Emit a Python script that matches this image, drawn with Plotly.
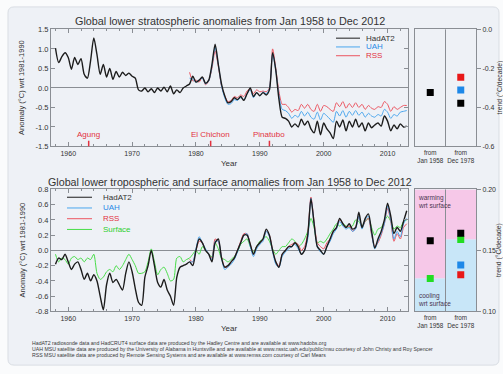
import numpy as np
import plotly.graph_objects as go

# ---------------- data ----------------
# half-yearly time axis (decimal years)
years_full = np.arange(1958.0, 2013.01, 0.5)   # radiosonde / surface record
years_sat = np.arange(1979.0, 2013.01, 0.5)    # satellite era

# lower stratosphere anomalies (degC wrt 1981-1990)
strat_hadat2 = [
    1.02, 0.65, 0.80, 0.90, 0.78, 0.48, 0.78, 0.60, 0.75, 0.35,
    0.25, 0.70, 1.28, 0.85, 0.35, 0.60, 0.28, 0.50, 0.22, 0.42,
    0.28, 0.40, 0.32, 0.38, 0.30, 0.25, -0.05, -0.08, 0.00, -0.10,
    -0.02, -0.12, 0.00, -0.08, 0.02, -0.10, 0.05, -0.15, -0.05, -0.12,
    0.00, 0.05, 0.10, 0.30, 0.15, 0.20, 0.28, 0.12, 0.20, 0.60,
    1.12, 0.60, 0.10, -0.20, -0.38, -0.35, -0.25, -0.30, -0.22, -0.32,
    -0.15, 0.00, -0.22, -0.12, -0.20, -0.12, -0.18, -0.05, 0.90, 0.45,
    -0.30, -0.75, -0.78, -0.85, -1.00, -0.92, -1.00, -0.80, -0.95, -0.85,
    -1.05, -1.15, -0.85, -1.20, -0.90, -1.05, -1.15, -1.30, -0.85, -1.00,
    -0.82, -1.10, -0.85, -1.00, -0.80, -1.00, -0.90, -1.10, -0.90, -1.02,
    -0.95, -0.90, -0.98, -0.72, -0.85, -1.10, -0.95, -1.05, -0.92, -1.00,
    -0.98,
]
strat_uah = [
    0.25, 0.22, 0.15, 0.20, 0.25, 0.10, 0.18, 0.55, 1.05, 0.60,
    0.05, -0.25, -0.42, -0.40, -0.30, -0.32, -0.25, -0.30, -0.15, -0.05,
    -0.25, -0.12, -0.20, -0.10, -0.15, -0.02, 0.88, 0.45, -0.20, -0.55,
    -0.58, -0.65, -0.78, -0.70, -0.75, -0.60, -0.72, -0.62, -0.75, -0.80,
    -0.62, -0.82, -0.65, -0.72, -0.80, -0.88, -0.60, -0.72, -0.58, -0.75,
    -0.60, -0.70, -0.58, -0.70, -0.62, -0.75, -0.65, -0.72, -0.75, -0.68,
    -0.72, -0.55, -0.62, -0.78, -0.68, -0.72, -0.62, -0.60, -0.58,
]
strat_rss = [
    0.40, 0.18, 0.20, 0.15, 0.28, 0.08, 0.18, 0.50, 0.95, 0.55,
    0.05, -0.20, -0.35, -0.32, -0.22, -0.25, -0.18, -0.22, -0.08, -0.02,
    -0.15, -0.05, -0.10, -0.08, -0.10, 0.00, 1.00, 0.50, -0.10, -0.42,
    -0.42, -0.50, -0.62, -0.55, -0.58, -0.42, -0.52, -0.42, -0.55, -0.60,
    -0.42, -0.60, -0.45, -0.48, -0.55, -0.60, -0.38, -0.48, -0.35, -0.52,
    -0.40, -0.50, -0.38, -0.50, -0.42, -0.55, -0.45, -0.52, -0.55, -0.48,
    -0.50, -0.35, -0.42, -0.60, -0.48, -0.55, -0.50, -0.45, -0.45,
]

# lower troposphere and surface anomalies (degC wrt 1981-1990)
trop_hadat2 = [
    -0.18, -0.10, -0.12, -0.05, -0.15, -0.25, -0.18, -0.15, -0.25, -0.38,
    -0.30, -0.40, -0.32, -0.40, -0.60, -0.78, -0.45, -0.30, -0.42, -0.38,
    -0.45, -0.52, -0.30, -0.15, -0.28, -0.50, -0.68, -0.72, -0.35, -0.20,
    0.00, -0.20, -0.42, -0.48, -0.38, -0.52, -0.60, -0.72, -0.35, -0.22,
    -0.20, -0.18, -0.15, -0.20, 0.00, 0.15, 0.10, 0.00, -0.05, -0.15,
    0.10, 0.15, -0.10, -0.22, -0.20, -0.15, -0.10, 0.00, 0.10, 0.20,
    0.20, 0.08, -0.05, 0.05, 0.10, 0.15, 0.28, 0.20, 0.00, -0.15,
    -0.22, -0.05, 0.00, 0.05, 0.05, 0.10, 0.05, -0.05, 0.00, 0.20,
    0.68, 0.35, 0.05, 0.00, -0.05, 0.05, 0.15, 0.25, 0.30, 0.42,
    0.35, 0.30, 0.35, 0.28, 0.30, 0.50, 0.30, 0.42, 0.48, 0.25,
    0.03, 0.15, 0.25, 0.40, 0.62, 0.45, 0.22, 0.30, 0.25, 0.38,
    0.52,
]
trop_surface = [
    -0.05, -0.15, -0.10, -0.12, -0.18, -0.10, -0.08, -0.12, -0.10, -0.15,
    -0.10, -0.12, -0.05, -0.30, -0.38, -0.35, -0.28, -0.25, -0.28, -0.20,
    -0.25, -0.20, -0.12, -0.05, -0.12, -0.20, -0.30, -0.30, -0.28, -0.15,
    0.02, -0.15, -0.32, -0.25, -0.22, -0.30, -0.40, -0.38, -0.10, -0.08,
    -0.15, -0.12, -0.10, -0.05, 0.00, -0.05, 0.05, 0.00, -0.05, -0.08,
    0.10, 0.02, -0.10, -0.12, -0.15, -0.12, -0.08, -0.02, 0.08, 0.12,
    0.15, 0.05, -0.02, 0.05, 0.12, 0.15, 0.18, 0.12, 0.02, -0.05,
    0.00, 0.05, 0.05, 0.10, 0.15, 0.12, 0.05, 0.08, 0.15, 0.25,
    0.42, 0.30, 0.10, 0.12, 0.10, 0.15, 0.22, 0.28, 0.35, 0.32,
    0.35, 0.32, 0.30, 0.32, 0.40, 0.38, 0.32, 0.38, 0.42, 0.30,
    0.20, 0.28, 0.30, 0.38, 0.45, 0.38, 0.28, 0.32, 0.30, 0.38,
    0.40,
]
trop_uah = [
    -0.15, -0.15, 0.02, 0.18, 0.10, 0.02, -0.05, -0.12, 0.12, 0.12,
    -0.10, -0.25, -0.22, -0.18, -0.12, -0.02, 0.10, 0.20, 0.22, 0.05,
    -0.08, 0.02, 0.08, 0.12, 0.25, 0.18, -0.02, -0.18, -0.22, -0.08,
    -0.02, 0.02, 0.05, 0.08, 0.02, -0.05, 0.00, 0.15, 0.68, 0.35,
    0.05, -0.02, -0.05, 0.05, 0.12, 0.22, 0.28, 0.38, 0.32, 0.28,
    0.30, 0.25, 0.28, 0.45, 0.28, 0.40, 0.45, 0.22, 0.02, 0.12,
    0.22, 0.35, 0.58, 0.40, 0.15, 0.25, 0.18, 0.35, 0.42,
]
trop_rss = [
    -0.12, -0.15, 0.00, 0.12, 0.10, 0.00, -0.05, -0.10, 0.15, 0.12,
    -0.08, -0.22, -0.22, -0.15, -0.10, 0.00, 0.12, 0.22, 0.22, 0.08,
    -0.05, 0.05, 0.10, 0.15, 0.25, 0.20, 0.00, -0.15, -0.20, -0.05,
    0.00, 0.05, 0.08, 0.10, 0.08, 0.00, 0.05, 0.22, 0.70, 0.38,
    0.10, 0.05, 0.02, 0.10, 0.15, 0.25, 0.30, 0.40, 0.35, 0.30,
    0.32, 0.25, 0.30, 0.45, 0.30, 0.38, 0.42, 0.20, 0.05, 0.10,
    0.20, 0.35, 0.55, 0.38, 0.12, 0.22, 0.15, 0.30, 0.35,
]

# linear trends (degC/decade); columns: from Jan 1958, from Dec 1978
trend_periods = ["from<br>Jan 1958", "from<br>Dec 1978"]
strat_trend_hadat2 = [-0.323, -0.378]
strat_trend_uah = [None, -0.31]
strat_trend_rss = [None, -0.245]
trop_trend_hadat2 = [0.158, 0.164]
trop_trend_surface = [0.127, 0.159]
trop_trend_uah = [None, 0.138]
trop_trend_rss = [None, 0.130]

# major volcanic eruptions
volcano_names = ["Agung", "El Chichon", "Pinatubo"]
volcano_years = [1963.2, 1982.3, 1991.5]

year_ticks = [1960, 1970, 1980, 1990, 2000, 2010]
strat_ticks = [-1.5, -1.0, -0.5, 0.0, 0.5, 1.0, 1.5]
trop_ticks = [-0.8, -0.6, -0.4, -0.2, 0.0, 0.2, 0.4, 0.6, 0.8]
strat_trend_ticks = [-0.6, -0.4, -0.2, 0.0]
trop_trend_ticks = [0.10, 0.15, 0.20]

# ---------------- styling ----------------
W, H = 503, 374
FONT = "Liberation Sans, Arial, sans-serif"
C_HAD = "#1c1c1c"
C_UAH = "#4aa6ee"
C_RSS = "#ec5560"
C_SFC = "#48dd48"
C_UAH_TXT = "#2a8ae6"
C_RSS_TXT = "#e2323f"
C_SFC_TXT = "#2fcf2f"
C_VOLC = "#e2323f"
AXC = "#8a8e94"
TXT = "#333333"

XRANGE = [1957.3, 2013.2]


def dom_x(a, b):
    return [a / W, b / W]


def dom_y(top, bottom):
    return [1 - bottom / H, 1 - top / H]


def px(x):
    return x / W


def py(y):
    return 1 - y / H


fig = go.Figure()


def series(xs, ys, color, width, xa, ya):
    fig.add_trace(go.Scatter(x=xs, y=ys, mode="lines",
                             line=dict(color=color, width=width,
                                       shape="spline", smoothing=0.7),
                             xaxis=xa, yaxis=ya))


# --- top: stratosphere ---
series(years_sat, strat_rss, C_RSS, 1, "x", "y")
series(years_sat, strat_uah, C_UAH, 1, "x", "y")
series(years_full, strat_hadat2, C_HAD, 1.4, "x", "y")

# --- bottom: troposphere / surface ---
series(years_full, trop_surface, C_SFC, 1, "x3", "y3")
series(years_sat, trop_rss, C_RSS, 1, "x3", "y3")
series(years_sat, trop_uah, C_UAH, 1, "x3", "y3")
series(years_full, trop_hadat2, C_HAD, 1.4, "x3", "y3")

# --- trend panels ---
col_x = [0.5, 1.5]


def trend_markers(vals, color, xa, ya):
    xs = [c for c, v in zip(col_x, vals) if v is not None]
    ys = [v for v in vals if v is not None]
    fig.add_trace(go.Scatter(x=xs, y=ys, mode="markers",
                             marker=dict(symbol="square", size=7, color=color),
                             xaxis=xa, yaxis=ya))


trend_markers(strat_trend_rss, "#e81818", "x2", "y2")
trend_markers(strat_trend_uah, "#1e88e8", "x2", "y2")
trend_markers(strat_trend_hadat2, "#000000", "x2", "y2")
trend_markers(trop_trend_rss, "#e81818", "x4", "y4")
trend_markers(trop_trend_uah, "#1e88e8", "x4", "y4")
trend_markers(trop_trend_surface, "#22dd22", "x4", "y4")
trend_markers(trop_trend_hadat2, "#000000", "x4", "y4")

xtickfont = dict(family=FONT, size=7, color=TXT)
ytickfont = dict(family=FONT, size=7.5, color=TXT)
sidefont = dict(family=FONT, size=7, color=TXT)


def main_x(dom, anchor):
    return dict(domain=dom, anchor=anchor, range=XRANGE, tickvals=year_ticks,
                ticks="inside", ticklen=4, tickcolor=AXC, showline=True,
                linecolor=AXC, linewidth=1, mirror="ticks", showgrid=False,
                zeroline=False, tickfont=xtickfont,
                minor=dict(ticks="inside", ticklen=2, dtick=2, tickcolor=AXC))


def main_y(dom, anchor, rng, ticks):
    return dict(domain=dom, anchor=anchor, range=rng, tickvals=ticks,
                ticktext=[f"{t:.1f}" for t in ticks], ticks="inside",
                ticklen=4, tickcolor=AXC, showline=True, linecolor=AXC,
                linewidth=1, mirror="ticks", showgrid=False, zeroline=True,
                zerolinecolor=AXC, zerolinewidth=1, tickfont=ytickfont)


def trend_x(dom, anchor):
    return dict(domain=dom, anchor=anchor, range=[0, 2], tickvals=col_x,
                ticktext=trend_periods, ticks="", tickangle=0, showline=True,
                linecolor=AXC, linewidth=1, mirror=True, showgrid=False,
                zeroline=False, tickfont=dict(family=FONT, size=6.3, color=TXT))


def trend_y(dom, anchor, rng, ticks, fmt):
    return dict(domain=dom, anchor=anchor, range=rng, side="right",
                tickvals=ticks, ticktext=[fmt.format(t) for t in ticks],
                ticks="outside", ticklen=4, tickcolor=AXC, showline=True,
                linecolor=AXC, linewidth=1, mirror=True, showgrid=False,
                zeroline=False, tickfont=sidefont)


top_y = dom_y(26, 146)
bot_y = dom_y(190, 315)
main_xd = dom_x(51, 408)
side_xd = dom_x(415, 476)

fig.update_layout(
    xaxis=main_x(main_xd, "y"),
    yaxis=main_y(top_y, "x", [-1.5, 1.5], strat_ticks),
    xaxis2=trend_x(side_xd, "y2"),
    yaxis2=trend_y(top_y, "x2", [-0.6, 0.0], strat_trend_ticks, "{:.1f}"),
    xaxis3=main_x(main_xd, "y3"),
    yaxis3=main_y(bot_y, "x3", [-0.8, 0.8], trop_ticks),
    xaxis4=trend_x(side_xd, "y4"),
    yaxis4=trend_y(bot_y, "x4", [0.10, 0.20], trop_trend_ticks, "{:.2f}"),
)

shapes = []
annotations = []

# card background
shapes.append(dict(type="path", xref="paper", yref="paper", layer="below",
                   path=(f"M {px(14)} {py(3)} L {px(493)} {py(3)} "
                         f"Q {px(499)} {py(3)} {px(499)} {py(9)} "
                         f"L {px(499)} {py(364)} Q {px(499)} {py(370)} {px(493)} {py(370)} "
                         f"L {px(14)} {py(370)} Q {px(8)} {py(370)} {px(8)} {py(364)} "
                         f"L {px(8)} {py(9)} Q {px(8)} {py(3)} {px(14)} {py(3)} Z"),
                   fillcolor="#eef1f6", line=dict(color="#d9dde3", width=1)))

# warming / cooling shading relative to the surface trend
for i, sfc in enumerate(trop_trend_surface):
    shapes.append(dict(type="rect", xref="x4", yref="y4", layer="below",
                       x0=i, x1=i + 1, y0=sfc, y1=0.20,
                       fillcolor="#f6c8e8", line=dict(width=0)))
    shapes.append(dict(type="rect", xref="x4", yref="y4", layer="below",
                       x0=i, x1=i + 1, y0=0.10, y1=sfc,
                       fillcolor="#c8e6f8", line=dict(width=0)))

# divider between trend columns
for xa, ya in (("x2", "y2"), ("x4", "y4")):
    shapes.append(dict(type="line", xref=xa, yref=f"{ya} domain",
                       x0=1, x1=1, y0=0, y1=1, line=dict(color=AXC, width=1)))

# volcano markers
for name, yr in zip(volcano_names, volcano_years):
    shapes.append(dict(type="line", xref="x", yref="y", x0=yr, x1=yr,
                       y0=-1.5, y1=-1.35, line=dict(color=C_VOLC, width=1.5)))
    annotations.append(dict(x=yr, y=-1.2, xref="x", yref="y", text=name,
                            showarrow=False, xanchor="center", yanchor="middle",
                            font=dict(family=FONT, size=8, color=C_VOLC)))


# legends
def legend_row(x0, x1, xt, y, color, tcolor, label):
    shapes.append(dict(type="line", xref="paper", yref="paper",
                       x0=px(x0), x1=px(x1), y0=py(y), y1=py(y),
                       line=dict(color=color, width=1)))
    annotations.append(dict(x=px(xt), y=py(y), xref="paper", yref="paper",
                            text=label, showarrow=False, xanchor="left",
                            yanchor="middle",
                            font=dict(family=FONT, size=8, color=tcolor)))


legend_row(336, 360, 364, 35, C_HAD, TXT, "HadAT2")
legend_row(336, 360, 364, 44, C_UAH, C_UAH_TXT, "UAH")
legend_row(336, 360, 364, 53, C_RSS, C_RSS_TXT, "RSS")

legend_row(67, 92, 101, 198, C_HAD, TXT, "HadAT2")
legend_row(67, 92, 101, 209, C_UAH, C_UAH_TXT, "UAH")
legend_row(67, 92, 101, 220, C_RSS, C_RSS_TXT, "RSS")
legend_row(67, 92, 101, 231, C_SFC, C_SFC_TXT, "Surface")

# titles
annotations += [
    dict(x=px(229.5), y=py(17), xref="paper", yref="paper", showarrow=False,
         text="Global lower stratospheric anomalies from Jan 1958 to Dec 2012",
         font=dict(family=FONT, size=10.8, color=TXT),
         xanchor="center", yanchor="middle"),
    dict(x=px(229.5), y=py(182), xref="paper", yref="paper", showarrow=False,
         text="Global lower tropospheric and surface anomalies from Jan 1958 to Dec 2012",
         font=dict(family=FONT, size=10.7, color=TXT),
         xanchor="center", yanchor="middle"),
]

lab_font = dict(family=FONT, size=7.5, color=TXT)
for yc, yr in ((86, 163), (252.5, 333)):
    annotations.append(dict(x=px(22), y=py(yc), xref="paper", yref="paper",
                            showarrow=False, text="Anomaly (°C) wrt 1981-1990",
                            textangle=-90, font=lab_font,
                            xanchor="center", yanchor="middle"))
    annotations.append(dict(x=px(229.5), y=py(yr), xref="paper", yref="paper",
                            showarrow=False, text="Year", font=dict(family=FONT, size=8, color=TXT),
                            xanchor="center", yanchor="middle"))
for yc in (86, 252.5):
    annotations.append(dict(x=px(499.5), y=py(yc), xref="paper", yref="paper",
                            showarrow=False, text="trend (°C/decade)",
                            textangle=-90, font=dict(family=FONT, size=6.8, color=TXT),
                            xanchor="center", yanchor="middle", borderpad=0))

small = dict(family=FONT, size=6.5, color="#4a3550")
annotations.append(dict(x=0.04, y=0.198, xref="x4", yref="y4", showarrow=False,
                        text="warming<br>wrt surface", align="left",
                        xanchor="left", yanchor="top", font=small))
annotations.append(dict(x=0.04, y=0.102, xref="x4", yref="y4", showarrow=False,
                        text="cooling<br>wrt surface", align="left",
                        xanchor="left", yanchor="bottom", font=small))

# data credits
credits = [
    "HadAT2 radiosonde data and HadCRUT4 surface data are produced by the Hadley Centre and are available at www.hadobs.org",
    "UAH MSU satellite data are produced by the University of Alabama in Huntsville and are available at www.nsstc.uah.edu/public/msu courtesy of John Christy and Roy Spencer",
    "RSS MSU satellite data are produced by Remote Sensing Systems and are available at www.remss.com courtesy of Carl Mears",
]
for i, line in enumerate(credits):
    annotations.append(dict(x=px(30), y=py(347 + 6.5 * i), xref="paper", yref="paper",
                            showarrow=False, text=line, xanchor="left",
                            yanchor="middle",
                            font=dict(family=FONT, size=5.2, color="#3a3a3a")))

fig.update_layout(
    width=W, height=H, autosize=False,
    margin=dict(l=0, r=0, t=0, b=0),
    paper_bgcolor="#fafbfc", plot_bgcolor="rgba(0,0,0,0)",
    showlegend=False, font=dict(family=FONT, color=TXT),
    shapes=shapes, annotations=annotations,
)

fig.write_html("out.html")
